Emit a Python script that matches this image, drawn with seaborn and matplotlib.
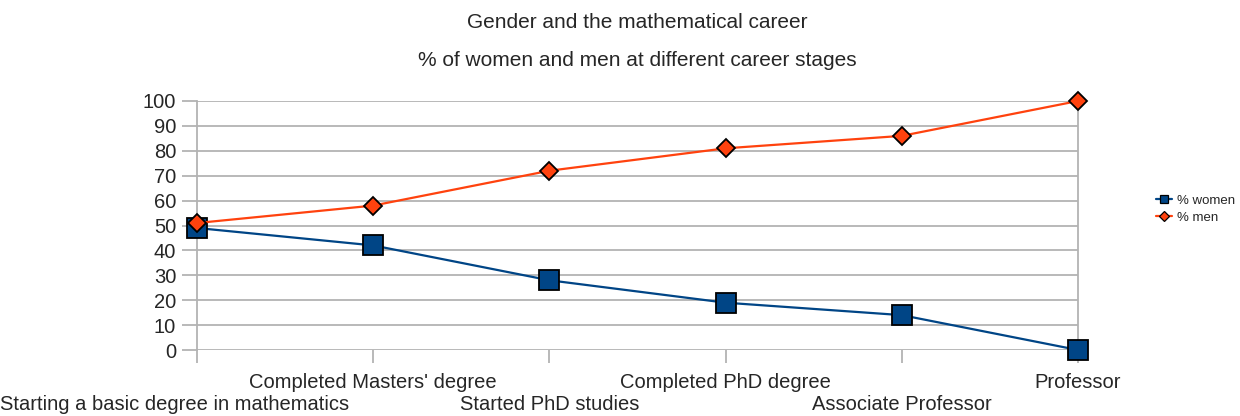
import numpy as np
import pandas as pd
import matplotlib
matplotlib.use("Agg")
import matplotlib.pyplot as plt
from matplotlib.lines import Line2D
import seaborn as sns

stages = ["Starting a basic degree in mathematics", "Completed Masters' degree",
          "Started PhD studies", "Completed PhD degree", "Associate Professor", "Professor"]
women = [49, 42, 28, 19, 14, 0]
men = [51, 58, 72, 81, 86, 100]

sns.set_style("white")
plt.rcParams['font.family'] = ['Liberation Sans', 'DejaVu Sans']

pos = list(range(len(stages)))
df_w = pd.DataFrame({"pos": pos, "value": women})
df_m = pd.DataFrame({"pos": pos, "value": men})

fig = plt.figure(figsize=(12.4, 4.16), dpi=100)
ax = fig.add_axes([197 / 1240, 1 - 350 / 416, (1078 - 197) / 1240, (350 - 101) / 416])

sns.lineplot(data=df_w, x="pos", y="value", color="#004586", marker="s", markersize=14,
             markeredgecolor="black", markeredgewidth=1.3, linewidth=1.6,
             ax=ax, zorder=3, clip_on=False)
sns.lineplot(data=df_m, x="pos", y="value", color="#ff420e", marker="D", markersize=9.5,
             markeredgecolor="black", markeredgewidth=1.3, linewidth=1.6,
             ax=ax, zorder=3, clip_on=False)

ax.set_xlim(0, len(stages) - 1)
ax.set_ylim(0, 100)
ax.set_yticks(range(0, 101, 10))
ax.yaxis.grid(True, color="#b3b3b3", linewidth=1.3)
ax.set_axisbelow(True)
for s in ["top", "bottom"]:
    ax.spines[s].set_visible(False)
for s in ["left", "right"]:
    ax.spines[s].set_color("#b3b3b3")
    ax.spines[s].set_linewidth(1.3)

ax.set_xticks(pos)
ax.set_xticklabels([])
ax.tick_params(axis="x", length=9, width=1.3, color="#b3b3b3", bottom=True)
ax.tick_params(axis="y", length=11, width=1.3, color="#b3b3b3", pad=4, labelsize=14.5, left=True)
ax.set_xlabel("")
ax.set_ylabel("")

# staggered category labels (the first one is pushed inside the figure)
trans = ax.get_xaxis_transform()
for i, s in enumerate(stages):
    y = -32 / 249 if i % 2 else -55 / 249
    if i == 0:
        ax.text(-197 / 176, y, s, transform=trans, ha="left", va="center",
                fontsize=14.5, clip_on=False)
    else:
        ax.text(i, y, s, transform=trans, ha="center", va="center",
                fontsize=14.5, clip_on=False)

cx = (197 + 1078) / 2 / 1240
fig.text(cx, 1 - 23 / 416, "Gender and the mathematical career", ha="center", va="center", fontsize=15)
fig.text(cx, 1 - 61 / 416, "% of women and men at different career stages", ha="center", va="center", fontsize=15)

handles = [
    Line2D([], [], color="#004586", marker="s", markersize=6, markeredgecolor="black",
           markeredgewidth=0.9, linewidth=1.6),
    Line2D([], [], color="#ff420e", marker="D", markersize=5, markeredgecolor="black",
           markeredgewidth=0.9, linewidth=1.6),
]
ax.legend(handles, ["% women", "% men"], loc="center left", bbox_to_anchor=(1.075, 0.566),
          frameon=False, fontsize=9.5, handlelength=1.2, handletextpad=0.4, labelspacing=0.35)

fig.savefig("out.png", dpi=100)
